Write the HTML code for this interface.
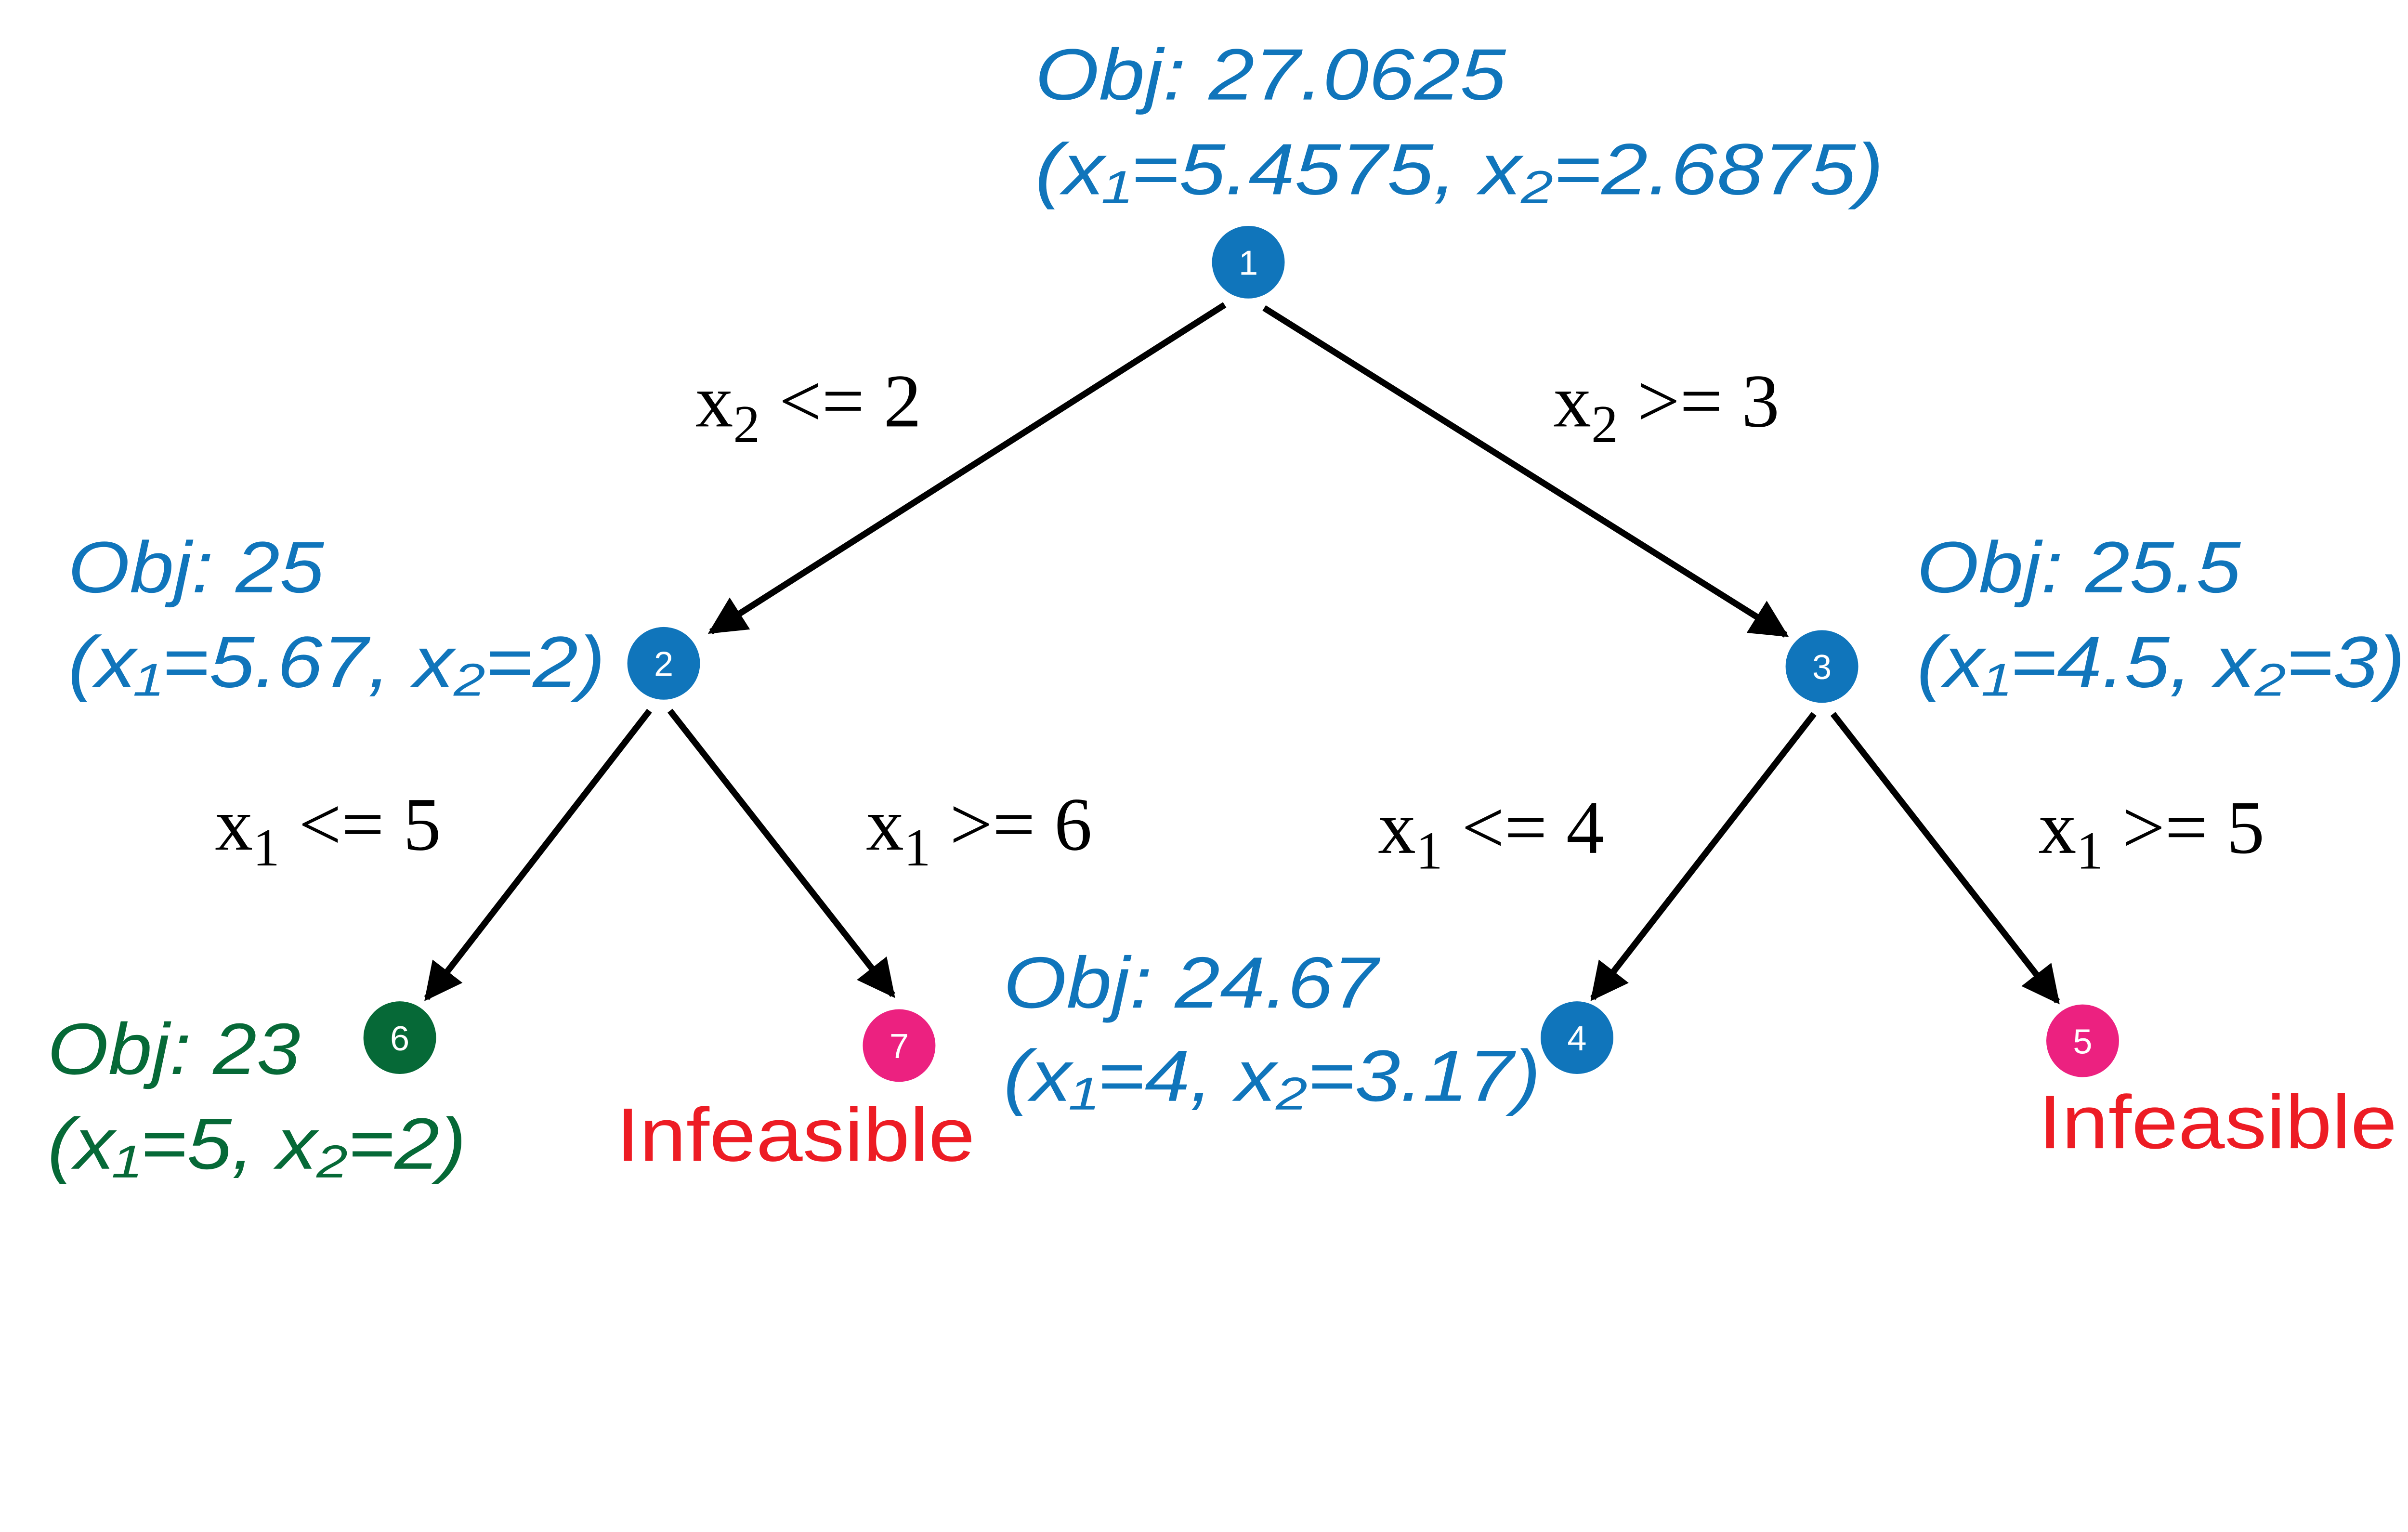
<!DOCTYPE html>
<html><head><meta charset="utf-8"><style>
html,body{margin:0;padding:0;background:#fff;}
svg{display:block;}
.it{font-family:"Liberation Sans",sans-serif;font-style:italic;font-size:46px;}
.ser{font-family:"Liberation Serif",serif;font-size:48px;fill:#000;}
.n{font-family:"Liberation Sans",sans-serif;font-size:22px;fill:#fff;text-anchor:middle;}
</style></head><body>
<svg width="5148" height="3181" viewBox="0 0 1569 970" preserveAspectRatio="none" xmlns="http://www.w3.org/2000/svg">
<defs>
<marker id="a" viewBox="0 0 10 10" refX="9" refY="5" markerWidth="6" markerHeight="6" markerUnits="strokeWidth" orient="auto">
<path d="M0,0 L10,5 L0,10 z" fill="#000"/></marker>
</defs>
<g stroke="#000" stroke-width="4" fill="none" marker-end="url(#a)">
<line x1="775" y1="193" x2="450" y2="400"/>
<line x1="800" y1="195" x2="1130" y2="402"/>
<line x1="411" y1="450" x2="270" y2="632"/>
<line x1="424" y1="450" x2="565" y2="630"/>
<line x1="1148" y1="452" x2="1008" y2="632"/>
<line x1="1160" y1="452" x2="1302" y2="634"/>
</g>
<circle cx="790" cy="166" r="23" fill="#1075bb"/><text class="n" x="790" y="174">1</text>
<circle cx="420" cy="420" r="23" fill="#1075bb"/><text class="n" x="420" y="428">2</text>
<circle cx="1153" cy="422" r="23" fill="#1075bb"/><text class="n" x="1153" y="430">3</text>
<circle cx="998" cy="657" r="23" fill="#1075bb"/><text class="n" x="998" y="665">4</text>
<circle cx="1318" cy="659" r="23" fill="#ec2180"/><text class="n" x="1318" y="667">5</text>
<circle cx="253" cy="657" r="23" fill="#066937"/><text class="n" x="253" y="665">6</text>
<circle cx="569" cy="662" r="23" fill="#ec2180"/><text class="n" x="569" y="670">7</text>

<g class="it" fill="#1075bb">
<text x="655" y="63" textLength="298" lengthAdjust="spacingAndGlyphs">Obj: 27.0625</text>
<text x="655" y="123" textLength="537" lengthAdjust="spacingAndGlyphs">(x₁=5.4575, x₂=2.6875)</text>
<text x="43" y="375" textLength="162" lengthAdjust="spacingAndGlyphs">Obj: 25</text>
<text x="43" y="435" textLength="340" lengthAdjust="spacingAndGlyphs">(x₁=5.67, x₂=2)</text>
<text x="1213" y="375" textLength="205" lengthAdjust="spacingAndGlyphs">Obj: 25.5</text>
<text x="1213" y="435" textLength="309" lengthAdjust="spacingAndGlyphs">(x₁=4.5, x₂=3)</text>
<text x="635" y="638" textLength="237" lengthAdjust="spacingAndGlyphs">Obj: 24.67</text>
<text x="635" y="697" textLength="340" lengthAdjust="spacingAndGlyphs">(x₁=4, x₂=3.17)</text>
</g>
<g class="it" fill="#066937">
<text x="30" y="680" textLength="160" lengthAdjust="spacingAndGlyphs">Obj: 23</text>
<text x="30" y="740" textLength="265" lengthAdjust="spacingAndGlyphs">(x₁=5, x₂=2)</text>
</g>
<g font-family="Liberation Sans, sans-serif" font-size="48" fill="#ed1c24">
<text x="390" y="735" textLength="227" lengthAdjust="spacingAndGlyphs">Infeasible</text>
<text x="1290" y="727" textLength="227" lengthAdjust="spacingAndGlyphs">Infeasible</text>
</g>
<text class="ser" x="440" y="270">x<tspan dy="10" font-size="34">2</tspan><tspan dy="-10"> &lt;= 2</tspan></text>
<text class="ser" x="983" y="270">x<tspan dy="10" font-size="34">2</tspan><tspan dy="-10"> &gt;= 3</tspan></text>
<text class="ser" x="136" y="538">x<tspan dy="10" font-size="34">1</tspan><tspan dy="-10"> &lt;= 5</tspan></text>
<text class="ser" x="548" y="538">x<tspan dy="10" font-size="34">1</tspan><tspan dy="-10"> &gt;= 6</tspan></text>
<text class="ser" x="872" y="540">x<tspan dy="10" font-size="34">1</tspan><tspan dy="-10"> &lt;= 4</tspan></text>
<text class="ser" x="1290" y="540">x<tspan dy="10" font-size="34">1</tspan><tspan dy="-10"> &gt;= 5</tspan></text>
</svg>
</body></html>
